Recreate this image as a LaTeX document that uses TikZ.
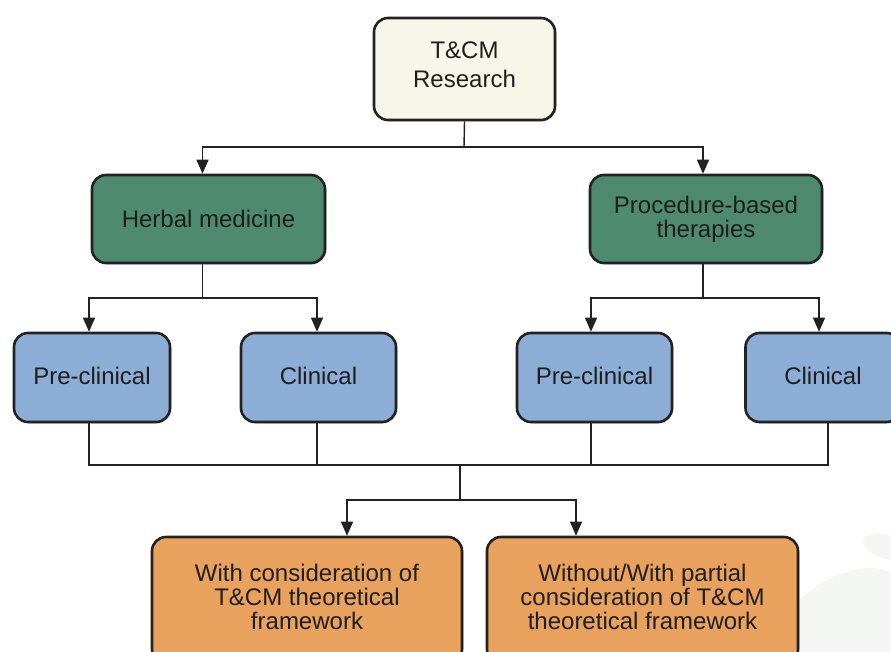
\documentclass[tikz,border=0pt]{standalone}
\usepackage{fontspec}
\setmainfont{Liberation Sans}
\usetikzlibrary{arrows.meta,shadows}
\definecolor{topfill}{HTML}{F6F7E9}
\definecolor{greenfill}{HTML}{4E8A6F}
\definecolor{bluefill}{HTML}{8CADD5}
\definecolor{orangefill}{HTML}{E8A25D}
\definecolor{edge}{HTML}{222222}
\definecolor{txt}{HTML}{1E1E1E}
\definecolor{wm}{HTML}{F3F6F3}
\begin{document}
\begin{tikzpicture}[x=1pt,y=-1pt,
  box/.style={draw=edge,line width=2.6pt,rounded corners=14pt,inner sep=0pt,
    drop shadow={opacity=0.35,shadow xshift=1.5pt,shadow yshift=-1.5pt}},
  lbl/.style={align=center,text=txt,inner sep=0pt,font=\fontsize{24}{24}\selectfont},
  conn/.style={line width=1.4pt,draw=edge},
  arr/.style={conn,-{Triangle[length=14pt,width=12pt]}}]
\useasboundingbox (0,0) rectangle (891,652);
\clip (0,0) rectangle (891,652);
% faint watermark blotches
\fill[wm] (800,600) .. controls (830,570) and (875,560) .. (895,575) -- (895,652) -- (790,652) .. controls (790,630) and (795,615) .. (800,600);
\fill[wm] (862,540) .. controls (872,530) and (888,532) .. (895,540) -- (895,560) .. controls (880,560) and (866,552) .. (862,540);
% boxes
\node[box,fill=topfill,minimum width=181pt,minimum height=102pt] (top) at (464.5,69) {};
\node[box,fill=greenfill,minimum width=233pt,minimum height=88pt] (herbal) at (208.5,219) {};
\node[box,fill=greenfill,minimum width=232pt,minimum height=88pt] (proc) at (706,219) {};
\node[box,fill=bluefill,minimum width=156pt,minimum height=89pt] (preL) at (92,377.5) {};
\node[box,fill=bluefill,minimum width=155pt,minimum height=89pt] (clinL) at (318.5,377.5) {};
\node[box,fill=bluefill,minimum width=155pt,minimum height=89pt] (preR) at (594.5,377.5) {};
\node[box,fill=bluefill,minimum width=155pt,minimum height=89pt] (clinR) at (823,377.5) {};
\node[box,fill=orangefill,minimum width=310pt,minimum height=126pt] (withT) at (307,600) {};
\node[box,fill=orangefill,minimum width=311pt,minimum height=126pt] (woT) at (642.5,600) {};
% texts
\node[lbl,font=\fontsize{24}{29}\selectfont] (topL) at (464.5,64.5) {T\&CM\\Research};
\node[lbl] (herbalL) at (208.5,219) {Herbal medicine};
\node[lbl] (procL) at (706,219) {Procedure-based\\therapies};
\node[lbl] (preLL) at (92,376) {Pre-clinical};
\node[lbl] (clinLL) at (318.5,376) {Clinical};
\node[lbl] (preRL) at (594.5,376) {Pre-clinical};
\node[lbl] (clinRL) at (823,376) {Clinical};
\node[lbl] (withTL) at (307,597) {With consideration of\\T\&CM theoretical\\framework};
\node[lbl] (woTL) at (642.5,597) {Without/With partial\\consideration of T\&CM\\theoretical framework};
% connectors
\coordinate (j1) at (464,147);
\draw[conn] (top.south) -- (j1);
\draw[arr] (j1) -| ([xshift=-6pt]herbal.north);
\draw[arr] (j1) -| ([xshift=-3pt]proc.north);
\coordinate (j2) at (202.5,298);
\draw[conn] ([xshift=-6pt]herbal.south) -- (j2);
\draw[arr] (j2) -| ([xshift=-3pt]preL.north);
\draw[arr] (j2) -| ([xshift=-1.5pt]clinL.north);
\coordinate (j3) at (703,298);
\draw[conn] ([xshift=-3pt]proc.south) -- (j3);
\draw[arr] (j3) -| ([xshift=-3.5pt]preR.north);
\draw[arr] (j3) -| ([xshift=-4pt]clinR.north);
\coordinate (j4) at (460,465);
\draw[conn] ([xshift=-3pt]preL.south) |- (j4);
\draw[conn] ([xshift=-1.5pt]clinL.south) |- (j4);
\draw[conn] ([xshift=-3.5pt]preR.south) |- (j4);
\draw[conn] ([xshift=5pt]clinR.south) |- (j4);
\coordinate (j5) at (460,500);
\draw[conn] (j4) -- (j5);
\draw[arr] (j5) -| ([xshift=40pt]withT.north);
\draw[arr] (j5) -| ([xshift=-66.5pt]woT.north);
\end{tikzpicture}
\end{document}
